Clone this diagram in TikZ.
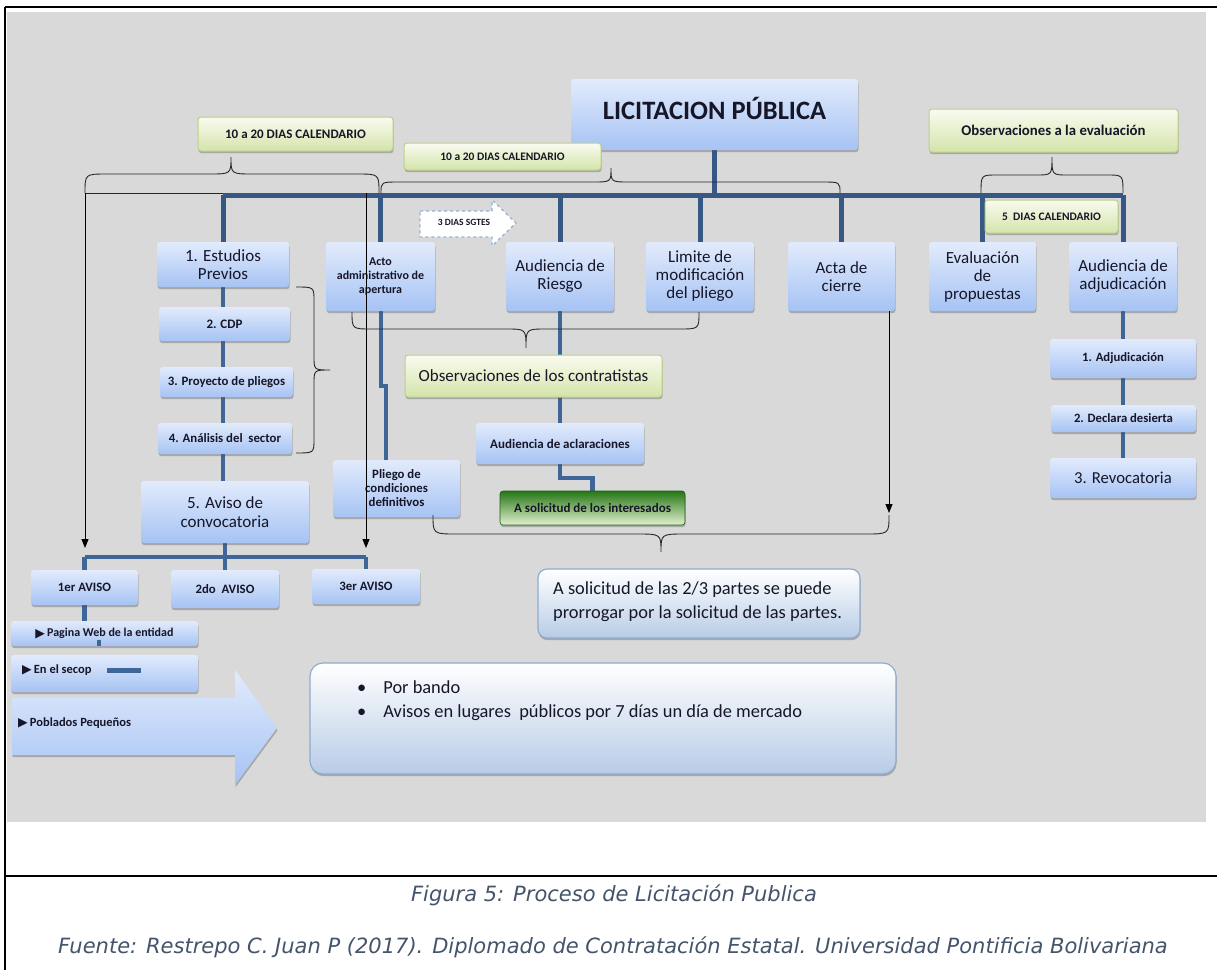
\documentclass[tikz,border=0pt]{standalone}
\usepackage{fontspec}
\setmainfont{Carlito}
\newfontfamily\capfont{DejaVu Sans}
\newfontfamily\symfont{DejaVu Sans}
\usetikzlibrary{shadows,arrows.meta}
\pgfdeclarelayer{bglayer}\pgfdeclarelayer{linelayer}
\pgfsetlayers{bglayer,linelayer,main}
\definecolor{bg}{RGB}{217,217,217}
\definecolor{bluetop}{RGB}{226,235,252}
\definecolor{bluebot}{RGB}{166,195,244}
\definecolor{connc}{RGB}{62,102,152}
\definecolor{busc}{RGB}{55,88,132}
\definecolor{greentop}{RGB}{249,251,240}
\definecolor{greenbot}{RGB}{212,228,170}
\definecolor{greenedge}{RGB}{186,208,136}
\definecolor{dgreentop}{RGB}{38,118,22}
\definecolor{dgreenbot}{RGB}{226,241,206}
\definecolor{wbbot}{RGB}{184,204,230}
\definecolor{wbedge}{RGB}{142,172,208}
\definecolor{dashc}{RGB}{150,178,214}
\definecolor{captxt}{RGB}{68,84,106}
\definecolor{txt}{RGB}{22,22,40}
\newcommand{\fsz}[2]{\fontsize{#1}{#2}\selectfont}
\newcommand{\tri}{{\symfont\fsz{12.5}{12}\raisebox{-0.5pt}{▶}}}
\newcommand{\mybox}[7]{\node[#1, minimum width={(#5)-(#3)}, minimum height={(#6)-(#4)}] (#2) at ({((#3)+(#5))/2},{((#4)+(#6))/2}) {#7};}
\newcommand{\bracehor}[7]{\draw[bracel] (#1,#3) .. controls (#1,#4) .. ({#1+#7},#4) -- ({#5-#7},#4) .. controls (#5,#4) .. (#5,#6) .. controls (#5,#4) .. ({#5+#7},#4) -- ({#2-#7},#4) .. controls (#2,#4) .. (#2,#3);}
\newcommand{\bracever}[7]{\draw[bracel] (#3,#1) .. controls (#4,#1) .. (#4,{#1+#7}) -- (#4,{#5-#7}) .. controls (#4,#5) .. (#6,#5) .. controls (#4,#5) .. (#4,{#5+#7}) -- (#4,{#2-#7}) .. controls (#4,#2) .. (#3,#2);}
\tikzset{
  shadowed/.style={drop shadow={shadow xshift=0.6pt,shadow yshift=-2.2pt,opacity=0.35,fill=black!70}},
  bbox/.style={rounded corners=3pt, top color=bluetop, bottom color=bluebot, shadowed, text=txt, align=center, inner sep=1pt},
  gbox/.style={rounded corners=3pt, top color=greentop, bottom color=greenbot, draw=greenedge, line width=1pt, shadowed, text=txt, align=center, inner sep=1pt},
  dgbox/.style={rounded corners=3pt, top color=dgreentop, bottom color=dgreenbot, draw=dgreentop!80!black, line width=0.6pt, shadowed, text=txt, align=center, inner sep=1pt},
  wbox/.style={rounded corners=9pt, top color=white, bottom color=wbbot, draw=wbedge, line width=1.2pt, shadowed, inner sep=1pt},
  connl/.style={draw=connc, line width=4.5pt},
  busl/.style={draw=busc, line width=5pt},
  bracel/.style={draw=black!85, line width=0.9pt},
  arr/.style={draw=black, line width=1pt, -{Triangle[length=9pt,width=7pt]}},
  big/.style={font=\fsz{17}{18}},
}
\begin{document}
\begin{tikzpicture}[x=1pt,y=-1pt]
\useasboundingbox (0,0) rectangle (1217,970);
\begin{pgfonlayer}{bglayer}
\fill[bg] (7,12) rectangle (1206,822);
\draw[line width=2.5pt] (5,7) -- (1217,7);
\draw[line width=2.5pt] (5,7) -- (5,970);
\draw[line width=2pt] (5,876) -- (1217,876);
\end{pgfonlayer}

% title
\mybox{bbox,font=\fsz{26.5}{28}\bfseries,text depth=13pt}{lic}{571}{79}{858}{150}{LICITACION PÚBLICA}
% green labels
\mybox{gbox,font=\fsz{13}{14}\bfseries}{gA}{198}{117}{393}{151}{10 a 20 DIAS CALENDARIO}
\mybox{gbox,font=\fsz{11.5}{13}\bfseries}{gB}{404}{143}{601}{170}{10 a 20 DIAS CALENDARIO}
\mybox{gbox,font=\fsz{14.8}{16}\bfseries}{gC}{929}{109}{1178}{152}{Observaciones a la evaluación}
\mybox{gbox,font=\fsz{11.5}{13}\bfseries}{gD}{985}{200}{1118}{233}{5~ DIAS CALENDARIO}
% main row
\mybox{bbox,big}{est}{157}{242}{289}{287}{1. Estudios\\Previos}
\mybox{bbox,font=\fsz{12}{14}\bfseries}{acto}{326}{242}{435}{311}{Acto\\administrativo de\\apertura}
\mybox{bbox,big}{ries}{506}{242}{614}{311}{Audiencia de\\Riesgo}
\mybox{bbox,big}{lim}{646}{242}{754}{311}{Limite de\\modificación\\del pliego}
\mybox{bbox,big}{acta}{788}{242}{895}{311}{Acta de\\cierre}
\mybox{bbox,big}{eval}{929}{242}{1036}{311}{Evaluación\\de\\propuestas}
\mybox{bbox,big}{adj}{1069}{242}{1177}{311}{Audiencia de\\adjudicación}
% left column
\mybox{bbox,font=\fsz{13}{15}\bfseries}{cdp}{159}{307}{290}{341}{2. CDP}
\mybox{bbox,font=\fsz{12.8}{14}\bfseries}{proy}{160}{367}{293}{397}{3. Proyecto de pliegos}
\mybox{bbox,font=\fsz{12.8}{14}\bfseries}{anal}{158}{423}{292}{454}{4. Análisis del~ sector}
\mybox{bbox,font=\fsz{17}{19}}{aviso}{141}{481}{309}{543}{5. Aviso de\\convocatoria}
\mybox{bbox,font=\fsz{12.8}{14}\bfseries}{av1}{31}{570}{138}{605}{1er AVISO}
\mybox{bbox,font=\fsz{12.8}{14}\bfseries}{av2}{171}{570}{279}{608}{2do~ AVISO}
\mybox{bbox,font=\fsz{12.8}{14}\bfseries}{av3}{312}{569}{420}{604}{3er AVISO}
\mybox{bbox,font=\fsz{12}{14}\bfseries}{pag}{11}{621}{198}{646}{\tri\,Pagina Web de la entidad}
\mybox{bbox}{sec}{11}{655}{198}{692}{}
\node[anchor=west, text=txt, font=\fsz{12.5}{14}\bfseries, inner sep=0pt] (sect) at (22,670) {\tri\,En el secop};
% middle
\mybox{bbox,font=\fsz{12.8}{14}\bfseries}{pli}{333}{460}{460}{517}{Pliego de\\condiciones\\definitivos}
\mybox{gbox,font=\fsz{17}{18}}{obs}{405}{355}{662}{397}{Observaciones de los contratistas}
\mybox{bbox,font=\fsz{13}{15}\bfseries}{acl}{476}{423}{644}{464}{Audiencia de aclaraciones}
\mybox{dgbox,font=\fsz{13}{15}\bfseries}{sol}{500}{491}{685}{525}{A solicitud de los interesados}
% right column
\mybox{bbox,font=\fsz{12.7}{14}\bfseries}{adj1}{1050}{339}{1196}{378}{1. Adjudicación}
\mybox{bbox,font=\fsz{12.7}{14}\bfseries}{adj2}{1051}{405}{1196}{432}{2. Declara desierta}
\mybox{bbox,font=\fsz{16.7}{18}}{adj3}{1050}{458}{1196}{498}{3. Revocatoria}
% lower notes
\mybox{wbox}{part}{538}{569}{860}{638}{}
\node[anchor=west, align=left, text=txt, font=\fsz{18.4}{24}, inner sep=0pt] (partt) at (553,602) {A solicitud de las 2/3 partes se puede\\prorrogar por la solicitud de las partes.};
\mybox{wbox,rounded corners=13pt}{band}{310}{663}{896}{774}{}
\node[anchor=west, text=txt, font=\fsz{18.4}{20}, inner sep=0pt] (b1) at (357,687) {\textbullet\hspace{17pt}Por bando};
\node[anchor=west, text=txt, font=\fsz{18.4}{20}, inner sep=0pt] (b2) at (357,713) {\textbullet\hspace{17pt}Avisos en lugares~ públicos por 7 días un día de mercado};
% poblados arrow
\path[top color=bluetop, bottom color=bluebot, shadowed] (12,698) -- (235,698) -- (235,670) -- (277,728) -- (235,785) -- (235,755) -- (12,755) -- cycle;
\node[anchor=west, text=txt, font=\fsz{12.5}{14}\bfseries, inner sep=0pt] (pob) at (18,723) {\tri\,Poblados Pequeños};
% dashed arrow
\path[draw=dashc, dashed, line width=1.3pt, fill=white] (420,211) -- (492,211) -- (492,200) -- (516,223) -- (492,246) -- (492,237) -- (420,237) -- cycle;
\node[text=txt, font=\fsz{9.5}{10}\bfseries, inner sep=0pt] (sg) at (464,222) {3 DIAS SGTES};

% coordinates
\coordinate (busy) at (0,195);
\coordinate (lowbus) at (0,557);
\coordinate (jog) at (386,386);

\begin{pgfonlayer}{linelayer}
\draw[busl] (est.north |- busy) -- (adj.north |- busy);
\draw[busl] (lic.south) -- (lic.south |- busy);
\foreach \n in {est,acto,ries,lim,acta,eval,adj} \draw[busl] (\n.north |- busy) -- (\n.north);
\draw[connl] (est.south) -- (est.south |- aviso.north);
\draw[connl] (aviso.south) -- (aviso.south |- lowbus);
\draw[connl] (av1.north |- lowbus) -- (av3.north |- lowbus);
\foreach \n in {av1,av2,av3} \draw[connl] (\n.north |- lowbus) -- (\n.north);
\draw[connl] (av1.south) -- (av1.south |- pag.north);
\draw[connl,line width=4pt] (acto.south) -- (acto.south |- jog) -- (jog) -- (jog |- pli.north);
\draw[connl] (ries.south) -- (ries.south |- acl.north);
\draw[connl] (acl.south) -- ++(0,14) -| (sol.north);
\draw[connl] (adj.south) -- (adj.south |- adj3.north);
\end{pgfonlayer}
\fill[fill=connc] (97,640) rectangle (101,646);
\fill[fill=connc] (107,668) rectangle (141,673);

% black lines and arrows
\coordinate (a1) at (85,193);
\coordinate (a3) at (366,193);
\draw[bracel] (a1) -- (est.north |- a1);
\draw[arr, shorten >=9pt] (a1) -- (a1 |- lowbus);
\draw[arr, shorten >=9pt] (a3) -- (a3 |- lowbus);
\coordinate (ac) at (889,311);
\draw[arr] (ac) -- (889,513);
% braces
\bracehor{85}{379}{193}{174}{231}{157}{22}
\bracehor{381}{840}{193}{182}{611}{168}{18}
\bracehor{981}{1123}{193}{175}{1052}{157}{16}
\bracehor{352}{699}{312}{329}{526}{348}{20}
\bracehor{433}{889}{515}{534}{661}{552}{24}
\bracever{287}{453}{296}{314}{370}{330}{14}

% captions
\node[anchor=base, text=captxt, font=\capfont\itshape\fsz{21}{25}, inner sep=0pt] (fig) at (614,901) {Figura 5: Proceso de Licitación Publica};
\node[anchor=base, text=captxt, font=\capfont\itshape\fsz{21}{25}, inner sep=0pt] (src) at (613,953) {Fuente: Restrepo C. Juan P (2017). Diplomado de Contratación Estatal. Universidad Pontificia Bolivariana};
\end{tikzpicture}
\end{document}
